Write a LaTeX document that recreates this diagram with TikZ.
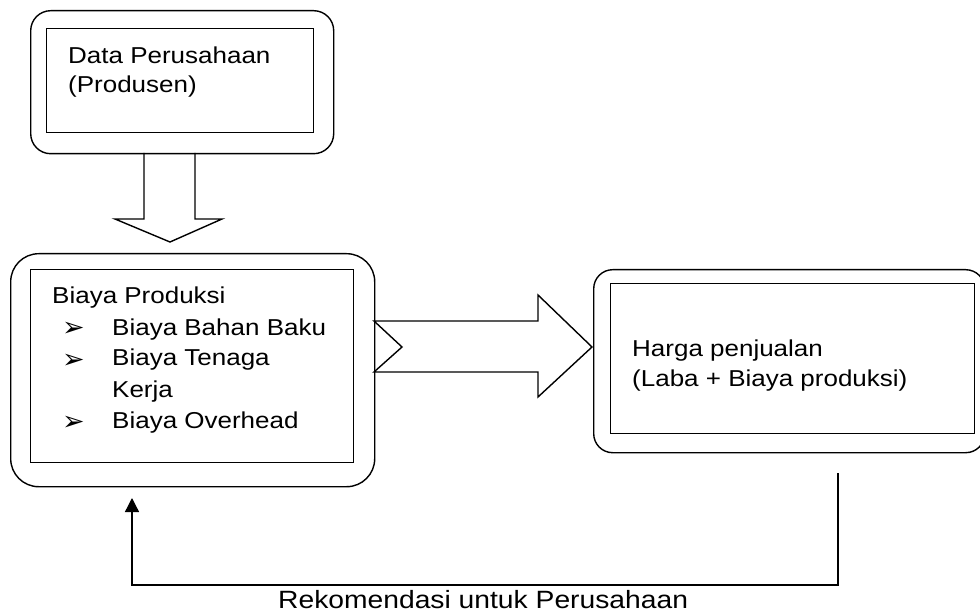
\documentclass[tikz,border=0pt]{standalone}
\usepackage{fontspec}
\setmainfont{Liberation Sans}
\newfontfamily\widefont[FakeStretch=1.13]{Liberation Sans}
\newfontfamily\dingfont{DejaVu Sans}
\usetikzlibrary{arrows.meta}

\begin{document}
\begin{tikzpicture}[x=1pt, y=-1pt,
  outerbox/.style={draw, line width=1.4pt, rounded corners=#1, inner sep=0pt, anchor=north west},
  innerbox/.style={draw, line width=1.2pt, inner sep=0pt, anchor=north west},
  lbl/.style={font=\widefont\fontsize{23}{27}\selectfont, inner sep=0pt, anchor=base west},
  bul/.style={font=\dingfont\fontsize{27}{30}\selectfont, inner sep=0pt, anchor=base west},
  blockarr/.style={draw, line width=1.4pt, line join=miter},
  fb/.style={line width=1.3pt, -{Triangle[width=14pt,length=14pt]}}]
\useasboundingbox (0,0) rectangle (980,612);

% data perusahaan
\node[outerbox=20pt, minimum width=303pt, minimum height=143pt] (dataout) at (30,10) {};
\node[innerbox, minimum width=267pt, minimum height=104pt] (datain) at (46,28) {};
\node[lbl] (data1) at (68,64) {Data Perusahaan};
\node[lbl] (data2) at (68,93) {(Produsen)};

% biaya produksi
\node[outerbox=28pt, minimum width=364pt, minimum height=233pt] (biayaout) at (10,253) {};
\node[innerbox, minimum width=323pt, minimum height=193pt] (biayain) at (30,269) {};
\node[lbl] (prod) at (52,304) {Biaya Produksi};
\node[bul] (bul1) at (62,337) {➢}; \node[lbl] (bahan) at (112,335) {Biaya Bahan Baku};
\node[bul] (bul2) at (62,368) {➢}; \node[lbl] (tenaga) at (112,366) {Biaya Tenaga};
\node[lbl] (kerja) at (112,397) {Kerja};
\node[bul] (bul3) at (62,430) {➢}; \node[lbl] (overhead) at (112,428) {Biaya Overhead};

% harga penjualan
\node[outerbox=19pt, minimum width=391pt, minimum height=183pt] (hargaout) at (593,269) {};
\node[innerbox, minimum width=364pt, minimum height=150pt] (hargain) at (610,283) {};
\node[lbl] (harga1) at (632,356) {Harga penjualan};
\node[lbl] (harga2) at (632,386) {(Laba + Biaya produksi)};

% block arrows
\draw[blockarr] (144,153) -- (144,219) -- (115,219) -- (170,242) -- (222,219) -- (195,219) -- (195,153);
\draw[blockarr] (374,321) -- (538,321) -- (538,295) -- (592,347) -- (538,397) -- (538,372) -- (374,372) -- (402,347) -- cycle;

% rekomendasi
\coordinate (fbtop) at (838,473);
\coordinate (fbtip) at (132,498);
\draw[fb] (fbtop) -- ++(0,112) -| (fbtip);
\node[lbl, font=\widefont\fontsize{25}{29}\selectfont] (rekom) at (278,608) {Rekomendasi untuk Perusahaan};
\end{tikzpicture}
\end{document}
